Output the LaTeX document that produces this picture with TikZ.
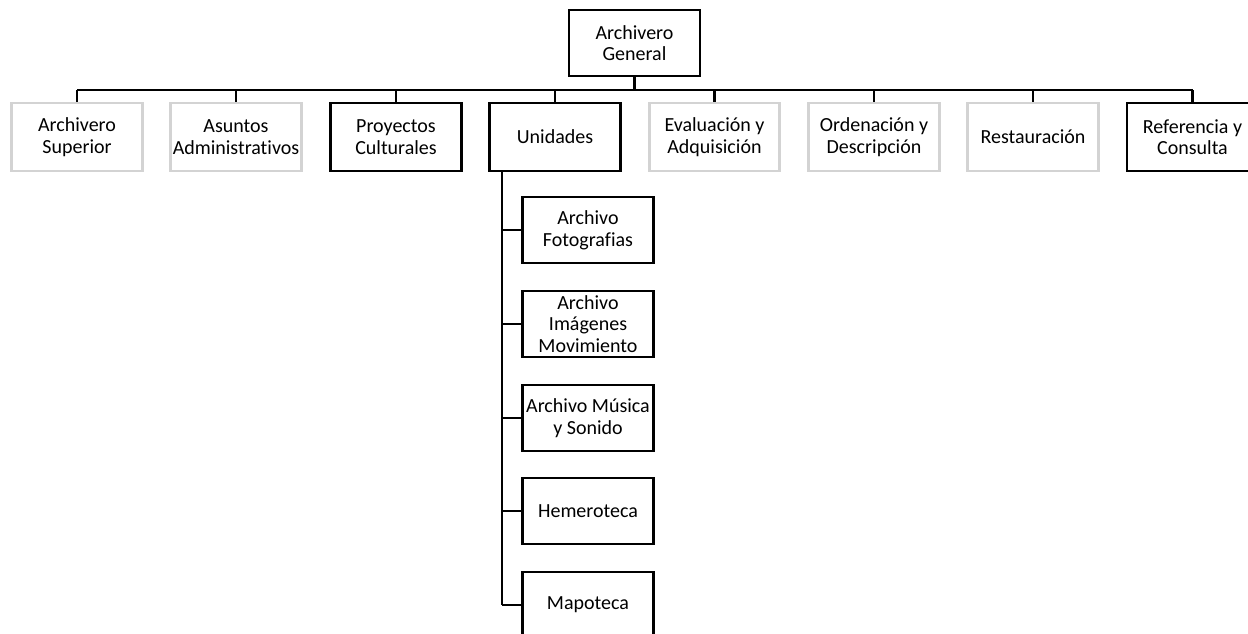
\documentclass[tikz,border=0pt]{standalone}
\usepackage{fontspec}
\setmainfont{Carlito}[Ligatures=NoCommon]
\usetikzlibrary{positioning}
\definecolor{boxgray}{HTML}{D3D3D3}

\begin{document}
\begin{tikzpicture}[x=0.75pt,y=-0.75pt,
  unit/.style={draw=black,line width=1.9pt,minimum width=98pt,minimum height=49.5pt,
    inner sep=1pt,align=center,font=\fontsize{15}{16.2}\selectfont},
  grayunit/.style={unit,draw=boxgray,line width=2.1pt},
  link/.style={line width=1.9pt}]
\useasboundingbox (0,0) rectangle (1248,634);
% top level
\node[unit] (gen) at (634.5,43) {Archivero\\General};
% second row
\node[grayunit,minimum height=51pt] (sup) at (77,137) {Archivero\\Superior};
\node[grayunit,minimum height=51pt] (adm) at (236,137) {Asuntos\\Administrativos};
\node[unit,minimum height=51pt] (cul) at (396,137) {Proyectos\\Culturales};
\node[unit,minimum height=51pt] (uni) at (555,137) {Unidades};
\node[grayunit,minimum height=51pt] (eva) at (714.5,137) {Evaluación y\\Adquisición};
\node[grayunit,minimum height=51pt] (ord) at (874,137) {Ordenación y\\Descripción};
\node[grayunit,minimum height=51pt] (res) at (1033,137) {Restauración};
\node[unit,minimum height=51pt] (ref) at (1192.5,137) {Referencia y\\Consulta};
% units under Unidades
\node[unit] (fot) at (588,230) {Archivo\\Fotografias};
\node[unit] (img) at (588,324) {Archivo\\Imágenes\\Movimiento};
\node[unit] (mus) at (588,418) {Archivo Música\\y Sonido};
\node[unit] (hem) at (588,511) {Hemeroteca};
\node[unit] (map) at (588,605) {Mapoteca};
% bus and trunk
\coordinate (busL) at (77,90);
\coordinate (busR) at (1192.5,90);
\coordinate (trunktop) at (502,171);
\coordinate (trunkbot) at (502,605);
\draw[link] (busL) -- (busR);
\draw[line width=2.5pt] (gen.south) -- (gen.south |- busL);
\draw[link] (sup.north) -- (sup.north |- busL);
\draw[link] (adm.north) -- (adm.north |- busL);
\draw[link] (cul.north) -- (cul.north |- busL);
\draw[link] (uni.north) -- (uni.north |- busL);
\draw[link] (eva.north) -- (eva.north |- busL);
\draw[link] (ord.north) -- (ord.north |- busL);
\draw[link] (res.north) -- (res.north |- busL);
\draw[link] (ref.north) -- (ref.north |- busL);
\draw[line width=2.2pt] (trunktop) -- (trunkbot);
\draw[link] (fot.west) -- (fot.west -| trunktop);
\draw[link] (img.west) -- (img.west -| trunktop);
\draw[link] (mus.west) -- (mus.west -| trunktop);
\draw[link] (hem.west) -- (hem.west -| trunktop);
\draw[link] (map.west) -- (map.west -| trunktop);
\end{tikzpicture}
\end{document}
